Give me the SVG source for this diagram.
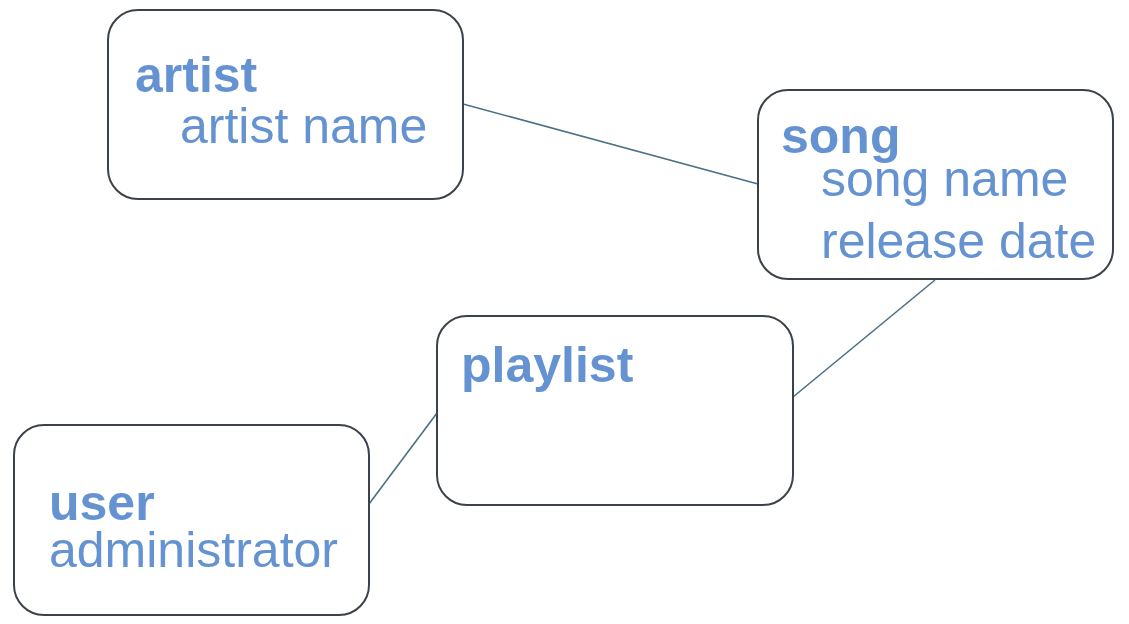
<svg xmlns="http://www.w3.org/2000/svg" width="1129" height="624" viewBox="0 0 1129 624">
<style>
.box{fill:#ffffff;stroke:#3b4249;stroke-width:2}
.conn{stroke:#4a7085;stroke-width:1.6;fill:none}
.t{font-family:"Liberation Sans",Arial,sans-serif;font-size:50px;fill:#6592d1}
.b{font-weight:bold}
</style>
<rect width="1129" height="624" fill="#ffffff"/>
<g id="connectors">
<line class="conn" x1="463" y1="104" x2="758" y2="184"/>
<line class="conn" x1="935" y1="280" x2="793" y2="397"/>
<line class="conn" x1="369" y1="504" x2="437" y2="413"/>
</g>
<g id="artist">
<rect class="box" x="108" y="10" width="355" height="189" rx="30"/>
<text class="t b" x="135" y="92">artist</text>
<text class="t" x="180" y="143">artist name</text>
</g>
<g id="song">
<rect class="box" x="758" y="90" width="355" height="189" rx="30"/>
<text class="t b" x="781" y="153">song</text>
<text class="t" x="821" y="196">song name</text>
<text class="t" x="821" y="258">release date</text>
</g>
<g id="playlist">
<rect class="box" x="437" y="316" width="356" height="189" rx="30"/>
<text class="t b" x="461" y="382">playlist</text>
</g>
<g id="user">
<rect class="box" x="14" y="425" width="355" height="190" rx="30"/>
<text class="t b" x="49" y="520">user</text>
<text class="t" x="49" y="567">administrator</text>
</g>
</svg>
